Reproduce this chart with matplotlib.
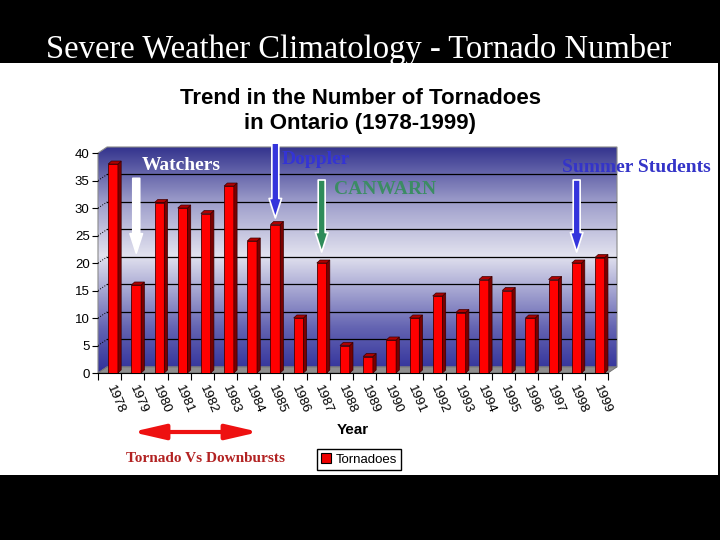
import numpy as np
import matplotlib
matplotlib.use('Agg')
import matplotlib.pyplot as plt
from matplotlib.colors import LinearSegmentedColormap
from matplotlib.patches import Polygon, Rectangle, Patch

# data
years = list(range(1978, 2000))
tornadoes = [38, 16, 31, 30, 29, 34, 24, 27, 10, 20, 5, 3, 6, 10, 14, 11, 17, 15, 10, 17, 20, 21]
yticks = [0, 5, 10, 15, 20, 25, 30, 35, 40]

# arrows pointing at particular years: (year, colour, start, tip)
arrow_years = [1979, 1985, 1987, 1998]
arrow_cols = ['white', '#3434dc', '#2e8b5a', '#3434dc']
arrow_start = [35.4, 41.8, 35.1, 35.1]
arrow_tip = [21.8, 28.2, 22.0, 22.0]

plt.rcParams['font.family'] = 'Liberation Sans'

W, H = 720, 540
def fx(px): return px / W
def fy(py): return 1 - py / H

fig = plt.figure(figsize=(7.2, 5.4), dpi=100, facecolor='black')
fig.add_artist(Rectangle((0, fy(475)), fx(718), (475 - 63) / H, transform=fig.transFigure,
                         facecolor='white', edgecolor='none', zorder=0))

ax = fig.add_axes([fx(98), fy(373), 519 / W, 226 / H])
ax.set_facecolor('none')

# 3d-ish offsets
dxw, dyw = 0.39, 1.1     # back wall
dxb, dyb = 0.14, 0.55    # bar depth
n = len(years)
xr = n - 0.5 + dxw

# back wall gradient
cmap = LinearSegmentedColormap.from_list('wall', [(0, '#30309a'), (0.2, '#6464b2'),
                                                  (0.52, '#e2e2ef'), (0.75, '#a0a0cc'),
                                                  (1, '#34348e')])
grad = np.linspace(0, 1, 256).reshape(-1, 1)
im = ax.imshow(grad, extent=(-0.5, xr, 0, 40 + dyw), origin='lower', aspect='auto',
               cmap=cmap, zorder=0)
wall = Polygon([(-0.5, 0), (-0.5 + dxw, dyw), (xr, dyw), (xr, 40 + dyw),
                (-0.5 + dxw, 40 + dyw), (-0.5, 40)], closed=True,
               facecolor='none', edgecolor='#8a8a8a', lw=0.8, zorder=0.5, clip_on=False)
ax.add_patch(wall)
im.set_clip_path(wall)

for t in yticks[1:-1]:
    ax.plot([-0.5 + dxw, xr], [t + dyw, t + dyw], color='black', lw=0.9, zorder=1)
    ax.plot([-0.5, -0.5 + dxw], [t, t + dyw], color='black', lw=0.7, ls=':', zorder=1)

floor = Polygon([(-0.5, 0), (n - 0.5, 0), (xr, dyw), (-0.5 + dxw, dyw)], closed=True,
                facecolor='#8e8e8e', edgecolor='#707070', lw=0.6, zorder=1.5, clip_on=False)
ax.add_patch(floor)

# bars
bx = np.arange(n) + 0.15
bw = 0.42
ax.bar(bx, tornadoes, width=bw, color='#ff0000', edgecolor='#4a0000', lw=0.6, zorder=3)
for x, v in zip(bx, tornadoes):
    l, r = x - bw / 2, x + bw / 2
    ax.add_patch(Polygon([(r, 0), (r + dxb, dyb), (r + dxb, v + dyb), (r, v)],
                         facecolor='#7a0000', edgecolor='#3a0000', lw=0.5, zorder=3))
    ax.add_patch(Polygon([(l, v), (l + dxb, v + dyb), (r + dxb, v + dyb), (r, v)],
                         facecolor='#b00000', edgecolor='#3a0000', lw=0.5, zorder=3))

ax.set_xlim(-0.5, xr)
ax.set_ylim(0, 40 + dyw)

for s in ['top', 'right', 'left']:
    ax.spines[s].set_visible(False)
ax.spines['bottom'].set_bounds(-0.5, n - 0.5)
ax.spines['bottom'].set_linewidth(0.8)

ax.set_yticks(yticks)
ax.set_yticklabels([str(t) for t in yticks])
ax.tick_params(axis='y', length=4, width=0.8, pad=2, labelsize=9.5)

ax.set_xticks(np.arange(n))
ax.set_xticklabels([str(y) for y in years])
ax.set_xticks(np.arange(-0.5, n, 1), minor=True)
ax.tick_params(axis='x', which='major', length=0, pad=9, labelsize=9.5)
ax.tick_params(axis='x', which='minor', length=5, width=0.8)
for lbl in ax.get_xticklabels():
    lbl.set_rotation(-67)
    lbl.set_ha('left')
    lbl.set_va('center')
    lbl.set_rotation_mode('anchor')

# annotation arrows
for yr, c, y0, y1 in zip(arrow_years, arrow_cols, arrow_start, arrow_tip):
    xi = years.index(yr) + 0.15
    ax.annotate('', xy=(xi, y1), xytext=(xi, y0), annotation_clip=False,
                arrowprops=dict(arrowstyle='simple,head_width=0.9,head_length=1.4,tail_width=0.5',
                                fc=c, ec='white', lw=1.2, shrinkA=0, shrinkB=0), zorder=5)

# texts
fig.text(fx(359), fy(58), 'Severe Weather Climatology - Tornado Number', color='white',
         family='Liberation Serif', fontsize=23.5, ha='center', va='baseline')
fig.text(fx(360), fy(111), 'Trend in the Number of Tornadoes\nin Ontario (1978-1999)',
         fontsize=16, weight='bold', ha='center', va='center', linespacing=1.25)
fig.text(fx(353), fy(430), 'Year', fontsize=11, weight='bold', ha='center', va='center')

serif = dict(family='Liberation Serif', weight='bold', ha='center', va='center')
fig.text(fx(181), fy(166), 'Watchers', color='white', fontsize=14, **serif)
fig.text(fx(316), fy(160), 'Doppler', color='#3434d4', fontsize=14, **serif)
fig.text(fx(385), fy(190), 'CANWARN', color='#3c8c64', fontsize=14, **serif)
fig.text(fx(636), fy(167), 'Summer Students', color='#3434c8', fontsize=14, **serif)
fig.text(fx(205), fy(459), 'Tornado Vs Downbursts', color='#b22222', fontsize=11, **serif)

ax.annotate('', xy=(fx(259), fy(432)), xytext=(fx(132), fy(432)),
            xycoords='figure fraction', textcoords='figure fraction',
            arrowprops=dict(arrowstyle='<|-|>,head_length=1.3,head_width=0.3',
                            color='#ee1111', lw=3, mutation_scale=15,
                            shrinkA=0, shrinkB=0))

leg = fig.legend(handles=[Patch(facecolor='#ee0000', edgecolor='black', lw=0.8)],
                 labels=['Tornadoes'], loc='center', bbox_to_anchor=(fx(359), fy(459.5)),
                 frameon=True, fancybox=False, edgecolor='black', framealpha=1,
                 handlelength=0.75, handleheight=0.75, handletextpad=0.4,
                 borderpad=0.3, borderaxespad=0, fontsize=9.5)
leg.get_frame().set_linewidth(1.0)

fig.savefig('out.png', dpi=100, facecolor='black')
